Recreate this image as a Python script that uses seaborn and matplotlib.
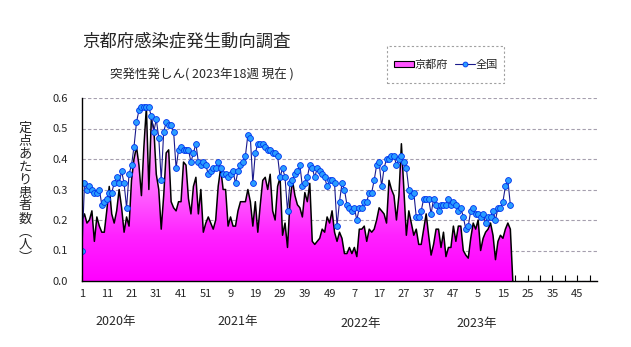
import numpy as np
import pandas as pd
import matplotlib
matplotlib.use("Agg")
import matplotlib.pyplot as plt
import seaborn as sns
from matplotlib.colors import LinearSegmentedColormap
from matplotlib.patches import Rectangle
from matplotlib.lines import Line2D

# ---- data (week index 0 = 2020 week 1) ----
kyoto = [
    0.20, 0.22, 0.19, 0.20, 0.23, 0.13, 0.21, 0.18, 0.16, 0.16,
    0.23, 0.31, 0.22, 0.19, 0.23, 0.30, 0.24, 0.16, 0.21, 0.18,
    0.33, 0.40, 0.44, 0.38, 0.28, 0.44, 0.57, 0.30, 0.53, 0.50,
    0.35, 0.30, 0.17, 0.28, 0.42, 0.43, 0.26, 0.24, 0.23, 0.26,
    0.26, 0.39, 0.38, 0.27, 0.22, 0.31, 0.34, 0.22, 0.30, 0.16,
    0.19, 0.21, 0.19, 0.17, 0.20, 0.31, 0.37, 0.30, 0.30, 0.18,
    0.21, 0.18, 0.18, 0.23, 0.26, 0.26, 0.26, 0.30, 0.26, 0.18,
    0.26, 0.16, 0.25, 0.33, 0.34, 0.30, 0.35, 0.23, 0.20, 0.31,
    0.34, 0.15, 0.19, 0.11, 0.26, 0.33, 0.28, 0.25, 0.24, 0.21,
    0.29, 0.26, 0.32, 0.13, 0.12, 0.13, 0.14, 0.17, 0.16, 0.21,
    0.19, 0.23, 0.16, 0.13, 0.16, 0.14, 0.09, 0.09, 0.11, 0.09,
    0.11, 0.08, 0.17, 0.17, 0.18, 0.13, 0.17, 0.16, 0.17, 0.20,
    0.24, 0.23, 0.22, 0.19, 0.33, 0.30, 0.28, 0.20, 0.28, 0.45,
    0.30, 0.15, 0.23, 0.19, 0.15, 0.17, 0.12, 0.12, 0.17, 0.22,
    0.15, 0.085, 0.12, 0.17, 0.17, 0.11, 0.16, 0.08, 0.11, 0.11,
    0.18, 0.13, 0.18, 0.18, 0.10, 0.085, 0.075, 0.14, 0.19, 0.17,
    0.20, 0.10, 0.14, 0.16, 0.17, 0.19, 0.15, 0.07, 0.13, 0.15,
    0.14, 0.17, 0.19, 0.17, 0.0,
]
national = [
    0.10, 0.32, 0.30, 0.31, 0.30, 0.29, 0.29, 0.30, 0.25, 0.26,
    0.27, 0.29, 0.29, 0.32, 0.34, 0.32, 0.36, 0.32, 0.24, 0.35,
    0.38, 0.44, 0.52, 0.56, 0.57, 0.57, 0.57, 0.57, 0.54, 0.49,
    0.53, 0.47, 0.33, 0.49, 0.52, 0.51, 0.51, 0.49, 0.37, 0.43,
    0.44, 0.43, 0.43, 0.43, 0.39, 0.42, 0.45, 0.39, 0.38, 0.39,
    0.38, 0.35, 0.36, 0.37, 0.37, 0.39, 0.37, 0.35, 0.35, 0.34,
    0.35, 0.36, 0.32, 0.36, 0.38, 0.39, 0.41, 0.48, 0.47, 0.32,
    0.42, 0.45, 0.45, 0.45, 0.44, 0.43, 0.43, 0.42, 0.42, 0.41,
    0.34, 0.37, 0.34, 0.23, 0.32, 0.33, 0.35, 0.36, 0.38, 0.31,
    0.32, 0.34, 0.38, 0.37, 0.34, 0.37, 0.36, 0.35, 0.34, 0.31,
    0.33, 0.33, 0.32, 0.18, 0.26, 0.32, 0.30, 0.25, 0.24, 0.23,
    0.24, 0.20, 0.24, 0.24, 0.26, 0.26, 0.29, 0.29, 0.33, 0.38,
    0.39, 0.31, 0.37, 0.40, 0.40, 0.41, 0.41, 0.38, 0.40, 0.41,
    0.39, 0.37, 0.30, 0.28, 0.29, 0.21, 0.21, 0.23, 0.27, 0.27,
    0.27, 0.22, 0.27, 0.25, 0.23, 0.25, 0.25, 0.25, 0.27, 0.25,
    0.26, 0.25, 0.23, 0.24, 0.21, 0.17, 0.18, 0.23, 0.24, 0.22,
    0.22, 0.21, 0.22, 0.19, 0.21, 0.21, 0.23, 0.20, 0.24, 0.24,
    0.26, 0.31, 0.33, 0.25,
]
tick_labels = ["1", "11", "21", "31", "41", "51", "9", "19", "29", "39", "49",
               "7", "17", "27", "37", "47", "5", "15", "25", "35", "45"]
year_labels = ["2020年", "2021年", "2022年", "2023年"]
series_names = ["京都府", "全国"]
title = "京都府感染症発生動向調査"
subtitle = "突発性発しん( 2023年18週 現在 )"
ylabel = "定点あたり患者数︵人︶"

# ---- style ----
sns.set_theme(style="white")
plt.rcParams["font.family"] = ["Noto Sans CJK JP", "DejaVu Sans"]

fig = plt.figure(figsize=(6.31, 3.47), dpi=100)
ax = fig.add_axes([82 / 631, 1 - 281 / 347, (597 - 82) / 631, (281 - 98) / 347])

df_k = pd.DataFrame({"week": np.arange(len(kyoto)), "value": kyoto})
df_n = pd.DataFrame({"week": np.arange(len(national)), "value": national})

# gradient filled area for Kyoto
fill = ax.fill_between(df_k["week"], df_k["value"], 0, facecolor="none", lw=0)
cmap = LinearSegmentedColormap.from_list(
    "pinkgrad", ["#ff00ff", "#ff22ff", "#ff66ff", "#ffa8ff", "#ffc8ff"])
grad = np.linspace(0, 1, 256).reshape(-1, 1)
img = ax.imshow(grad, extent=[0, 208, 0, 0.6], origin="lower", aspect="auto",
                cmap=cmap, zorder=1)
img.set_clip_path(fill.get_paths()[0], transform=ax.transData)

sns.lineplot(data=df_k, x="week", y="value", color="black", lw=1.1, ax=ax, zorder=3)
sns.lineplot(data=df_n, x="week", y="value", color="#1a1a8c", lw=0.8, marker="o",
             markersize=4.2, markerfacecolor="#2a9dff", markeredgecolor="#0033ee",
             markeredgewidth=0.6, ax=ax, zorder=4)

ax.set_xlim(0, 208)
ax.set_ylim(0, 0.6)
ax.set_xlabel("")
ax.set_ylabel("")

ax.set_xticks(np.arange(0, 201, 10))
ax.set_xticklabels(tick_labels, fontsize=8)
ax.set_xticks(np.arange(5, 208, 10), minor=True)
ax.tick_params(axis="x", which="both", direction="in", length=4, width=0.8,
               color="black", pad=6, bottom=True)
ax.set_yticks(np.arange(0, 0.61, 0.1))
ax.set_yticklabels([f"{v:.1f}" for v in np.arange(0, 0.61, 0.1)], fontsize=8)
ax.tick_params(axis="y", length=0, pad=10)

ax.yaxis.grid(True, linestyle=(0, (3, 2)), color="#a59fae", lw=0.8)
for gl in ax.get_ygridlines():
    gl.set_zorder(0.5)

for s in ["top", "right"]:
    ax.spines[s].set_visible(False)
for s in ["left", "bottom"]:
    ax.spines[s].set_color("black")
    ax.spines[s].set_linewidth(1.0)
    ax.spines[s].set_zorder(5)

# year labels below the axis
year_pos = [13.7, 62.8, 112.7, 159.4]
year_y = [322, 321, 324, 324]
for lab, xp, yp in zip(year_labels, year_pos, year_y):
    fx = (82 + xp * (597 - 82) / 208) / 631
    fig.text(fx, 1 - yp / 347, lab, ha="center", va="center", fontsize=9)

# titles
fig.text(186 / 631, 1 - 42 / 347, title, ha="center", va="center", fontsize=12.5)
fig.text(202 / 631, 1 - 75 / 347, subtitle, ha="center", va="center", fontsize=9)

# vertical y label
fig.text(25 / 631, 1 - 193 / 347, "\n".join(list(ylabel)), ha="center", va="center",
         fontsize=9.5, linespacing=1.0)

# legend (entries without frame) + dashed box drawn separately
handles = [
    Rectangle((0, 0), 1, 1, facecolor="#ff55ff", edgecolor="black", lw=0.8),
    Line2D([], [], color="#1a1a8c", lw=0.8, marker="o", markersize=3.5,
           markerfacecolor="#2a9dff", markeredgecolor="#0033ee", markeredgewidth=0.6),
]
leg = fig.legend(handles, series_names, ncol=2, loc="center",
                 bbox_to_anchor=(446 / 631, 1 - 64.5 / 347), frameon=False,
                 fontsize=8, handlelength=1.8, handleheight=0.45,
                 handletextpad=0.1, columnspacing=0.6, borderpad=0.2,
                 borderaxespad=0)
box = Rectangle((387 / 631, 1 - 83 / 347), (504 - 387) / 631, (83 - 46) / 347,
                transform=fig.transFigure, facecolor="white", edgecolor="#a0a0a0",
                lw=0.8, linestyle=(0, (2, 2)), zorder=0)
fig.patches.append(box)

fig.savefig("out.png", dpi=100)
